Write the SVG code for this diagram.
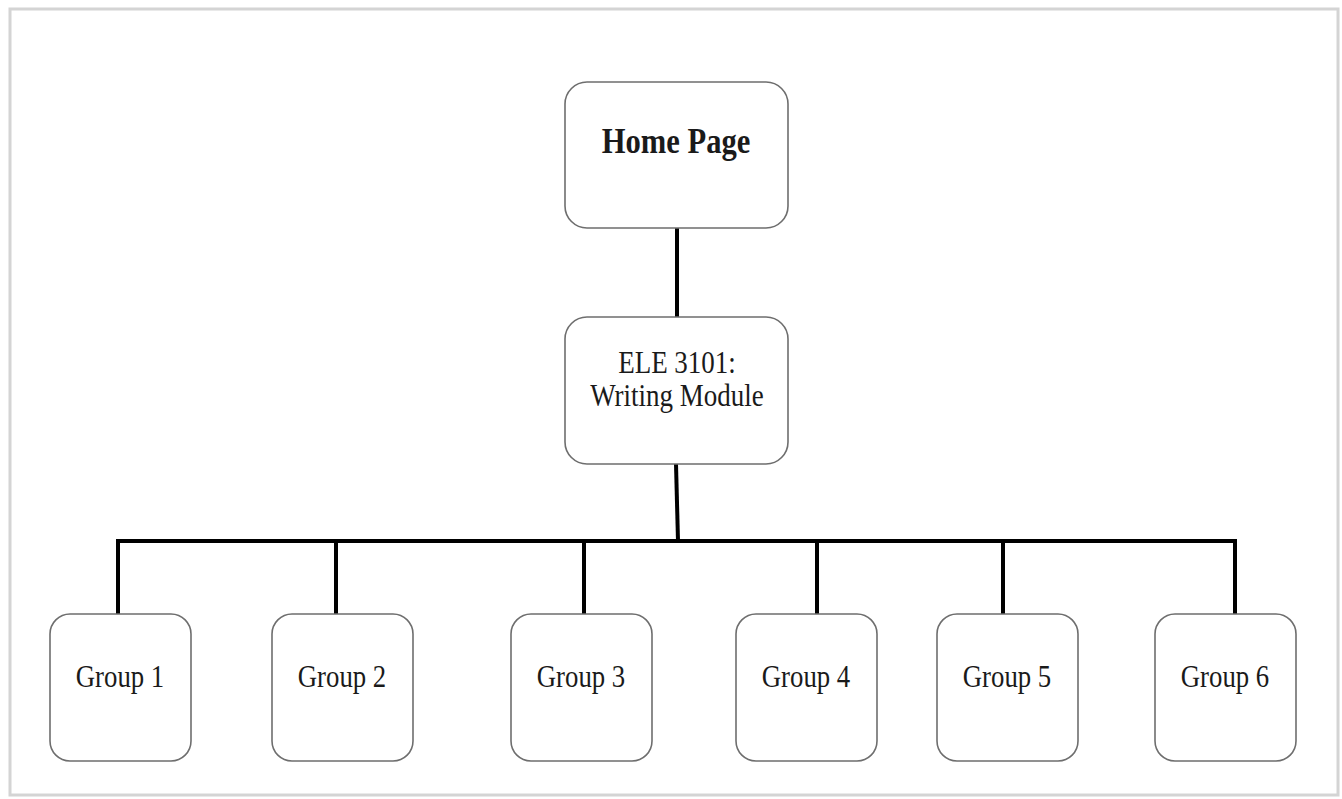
<svg xmlns="http://www.w3.org/2000/svg" width="1342" height="799" viewBox="0 0 1342 799">
<style>
.box{fill:#fff;stroke:#6e6e6e;stroke-width:1.6}
.lbl{font-family:"Liberation Serif","Times New Roman",serif;fill:#1a1a1a;text-anchor:middle}
.grp{font-size:26px}
.conn{stroke:#000;stroke-width:4;fill:none}
</style>
<rect width="1342" height="799" fill="#fff"/>
<rect x="10" y="9" width="1328" height="786" fill="none" stroke="#d4d4d4" stroke-width="3"/>
<g id="connectors">
<line class="conn" x1="677" y1="227" x2="677" y2="317"/>
<line class="conn" x1="676" y1="464" x2="678" y2="541"/>
<path class="conn" d="M118 614 V541 H1235 V614" stroke-linejoin="miter"/>
<line class="conn" x1="336" y1="541" x2="336" y2="614"/>
<line class="conn" x1="584" y1="541" x2="584" y2="614"/>
<line class="conn" x1="817" y1="541" x2="817" y2="614"/>
<line class="conn" x1="1003" y1="541" x2="1003" y2="614"/>
</g>
<g id="home">
<rect class="box" x="565" y="82" width="223" height="146" rx="22"/>
<text class="lbl" transform="translate(676,153) scale(1.02,1.18)" font-size="30" font-weight="bold">Home Page</text>
</g>
<g id="module">
<rect class="box" x="565" y="317" width="223" height="147" rx="22"/>
<text class="lbl" transform="translate(677,373) scale(1,1.18)" font-size="27">ELE 3101:</text>
<text class="lbl" transform="translate(677,406) scale(1,1.18)" font-size="27">Writing Module</text>
</g>
<g id="group1">
<rect class="box" x="50" y="614" width="141" height="147" rx="20"/>
<text class="lbl grp" transform="translate(120,687) scale(1.03,1.18)">Group 1</text>
</g>
<g id="group2">
<rect class="box" x="272" y="614" width="141" height="147" rx="20"/>
<text class="lbl grp" transform="translate(342,687) scale(1.03,1.18)">Group 2</text>
</g>
<g id="group3">
<rect class="box" x="511" y="614" width="141" height="147" rx="20"/>
<text class="lbl grp" transform="translate(581,687) scale(1.03,1.18)">Group 3</text>
</g>
<g id="group4">
<rect class="box" x="736" y="614" width="141" height="147" rx="20"/>
<text class="lbl grp" transform="translate(806,687) scale(1.03,1.18)">Group 4</text>
</g>
<g id="group5">
<rect class="box" x="937" y="614" width="141" height="147" rx="20"/>
<text class="lbl grp" transform="translate(1007,687) scale(1.03,1.18)">Group 5</text>
</g>
<g id="group6">
<rect class="box" x="1155" y="614" width="141" height="147" rx="20"/>
<text class="lbl grp" transform="translate(1225,687) scale(1.03,1.18)">Group 6</text>
</g>
</svg>
